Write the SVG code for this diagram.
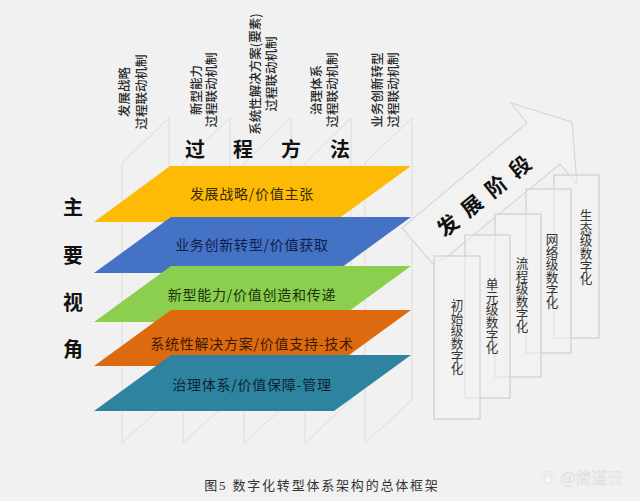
<svg xmlns="http://www.w3.org/2000/svg" width="640" height="501" viewBox="0 0 640 501">
<style>
text{font-family:"Noto Sans CJK SC","Liberation Sans",sans-serif;fill:#222;text-anchor:middle;dominant-baseline:central}
.g{fill:none;stroke:#dcdcdc;stroke-width:1}
.box{fill:#f2f2f2;fill-opacity:.55;stroke:#d2d2d2;stroke-width:1.3}
.v{font-size:12.6px;writing-mode:vertical-rl;fill:#333}
.r{font-size:12.5px;font-weight:500;fill:#2a2a2a}
.l{font-size:14px;letter-spacing:.75px}
.h{font-size:20px;font-weight:700;fill:#111}
.p{stroke:#dcdcdc;stroke-width:.8;fill:#f8f8f8}
</style>
<rect width="640" height="501" fill="#f1f1f1"/>
<g id="connectors">
<path class="g" d="M122 443V163L169 118V400L122 443"/>
<path class="g" d="M183 443V163L230 118V400L183 443"/>
<path class="g" d="M244 443V163L291 118V400L244 443"/>
<path class="g" d="M305 443V163L351 118V400L305 443"/>
<path class="g" d="M365 443V163L412 118V400L365 443"/>
</g>
<g id="mechanism-labels">
<text class="r" transform="translate(123 92) rotate(-90)">发展战略</text>
<text class="r" transform="translate(140 92) rotate(-90)">过程联动机制</text>
<text class="r" transform="translate(195 90) rotate(-90)">新型能力</text>
<text class="r" transform="translate(210 90) rotate(-90)">过程联动机制</text>
<text class="r" transform="translate(254 74) rotate(-90)">系统性解决方案(要素)</text>
<text class="r" transform="translate(270 74) rotate(-90)">过程联动机制</text>
<text class="r" transform="translate(315 90) rotate(-90)">治理体系</text>
<text class="r" transform="translate(331 90) rotate(-90)">过程联动机制</text>
<text class="r" transform="translate(376 90) rotate(-90)">业务创新转型</text>
<text class="r" transform="translate(392 90) rotate(-90)">过程联动机制</text>
</g>
<g id="process-title">
<text class="h" x="195" y="148">过</text>
<text class="h" x="243" y="148">程</text>
<text class="h" x="291" y="148">方</text>
<text class="h" x="340" y="148">法</text>
</g>
<g id="view-title">
<text class="h" x="73" y="206">主</text>
<text class="h" x="73" y="254">要</text>
<text class="h" x="73" y="301">视</text>
<text class="h" x="73" y="348">角</text>
</g>
<g id="layer-strategy">
<polygon points="170,166 411,166 334,222 94,222" fill="#fdbb05"/>
<text class="l" x="252" y="193" style="fill:#3a2a00">发展战略/价值主张</text>
</g>
<g id="layer-business">
<polygon points="171,217 411,217 334,273 94,273" fill="#4472c4"/>
<text class="l" x="252" y="244" style="fill:#10204a">业务创新转型/价值获取</text>
</g>
<g id="layer-capability">
<polygon points="171,266 411,266 334,322 94,322" fill="#8cce4e"/>
<text class="l" x="252" y="294" style="fill:#1d3308">新型能力/价值创造和传递</text>
</g>
<g id="layer-solution">
<polygon points="171,310 411,310 334,366 94,366" fill="#dd6a0e"/>
<text class="l" x="252" y="343" style="fill:#3b1a02">系统性解决方案/价值支持-技术</text>
</g>
<g id="layer-governance">
<polygon points="171,355 411,355 334,411 94,411" fill="#2e84a0"/>
<text class="l" x="252" y="384" style="fill:#0b2630">治理体系/价值保障-管理</text>
</g>
<g id="stage-arrow">
<polygon points="511,103 572,122 577,184 560,164 448,256 433,264 402,228 527,123" fill="#f2f2f2" stroke="#d6d6d6" stroke-width="1.2"/>
<text transform="translate(487 192) rotate(-39)" font-size="21" font-weight="700" letter-spacing="10" style="fill:#111">发展阶段</text>
</g>
<g id="stage-5"><rect class="box" x="554" y="175" width="45" height="163"/><text class="v" x="586" y="247">生态级数字化</text></g>
<g id="stage-4"><rect class="box" x="526" y="189" width="45" height="164"/><text class="v" x="552" y="271">网络级数字化</text></g>
<g id="stage-3"><rect class="box" x="495" y="214" width="46" height="163"/><text class="v" x="522" y="295">流程级数字化</text></g>
<g id="stage-2"><rect class="box" x="465" y="235" width="45" height="163"/><text class="v" x="492" y="316">单元级数字化</text></g>
<g id="stage-1"><rect class="box" x="434" y="256" width="46" height="163"/><text class="v" x="457" y="337">初始级数字化</text></g>
<g id="caption">
<text x="322" y="485" font-size="13" letter-spacing="1.8" style="font-family:'Liberation Serif','Noto Sans CJK SC',serif;fill:#333">图5  数字化转型体系架构的总体框架</text>
</g>
<g id="watermark">
<circle class="p" cx="548" cy="480" r="3.5"/>
<circle class="p" cx="543" cy="476" r="1.6"/>
<circle class="p" cx="546.500" cy="473" r="1.6"/>
<circle class="p" cx="550.500" cy="473" r="1.6"/>
<circle class="p" cx="553.500" cy="476" r="1.6"/>
<text x="592" y="477" font-size="16" style="fill:#f8f8f8;stroke:#d8d8d8;stroke-width:.5">@简道云</text>
</g>
</svg>
